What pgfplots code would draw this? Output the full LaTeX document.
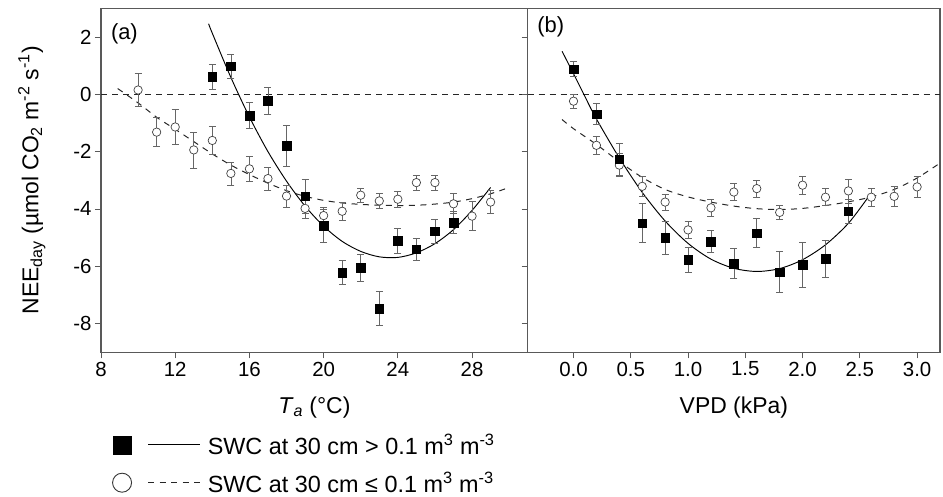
\documentclass[border=0pt]{standalone}
\usepackage{pgfplots}
\usepackage{pgfplotstable}
\pgfplotsset{compat=1.18}
\usepackage{fontspec}
\setmainfont{Liberation Sans}

% Panel (a): filled squares (SWC > 0.1)
\pgfplotstableread{
x y e
14 0.61 0.42
15 0.98 0.43
16 -0.74 0.46
17 -0.22 0.48
18 -1.80 0.72
19 -3.55 0.60
20 -4.59 0.58
21 -6.22 0.42
22 -6.05 0.47
23 -7.47 0.60
24 -5.11 0.45
25 -5.40 0.38
26 -4.77 0.42
27 -4.48 0.38
}\sqA
% Panel (a): open circles (SWC <= 0.1)
\pgfplotstableread{
x y e
10 0.15 0.57
11 -1.32 0.50
12 -1.14 0.60
13 -1.94 0.63
14 -1.61 0.50
15 -2.76 0.40
16 -2.60 0.44
17 -2.94 0.40
18 -3.55 0.38
19 -3.98 0.35
20 -4.23 0.30
21 -4.08 0.30
22 -3.52 0.25
23 -3.72 0.27
24 -3.66 0.27
25 -3.08 0.27
26 -3.08 0.27
27 -3.82 0.35
28 -4.25 0.50
29 -3.76 0.41
}\ciA
% Panel (b): filled squares
\pgfplotstableread{
x y e
0.0 0.88 0.27
0.2 -0.69 0.37
0.4 -2.27 0.57
0.6 -4.50 0.68
0.8 -5.00 0.58
1.0 -5.78 0.44
1.2 -5.14 0.38
1.4 -5.91 0.52
1.6 -4.84 0.50
1.8 -6.20 0.72
2.0 -5.94 0.78
2.2 -5.74 0.63
2.4 -4.08 0.41
}\sqB
% Panel (b): open circles
\pgfplotstableread{
x y e
0.0 -0.24 0.25
0.2 -1.78 0.32
0.4 -2.47 0.40
0.6 -3.21 0.35
0.8 -3.76 0.28
1.0 -4.73 0.30
1.2 -3.96 0.31
1.4 -3.41 0.30
1.6 -3.29 0.30
1.8 -4.12 0.25
2.0 -3.17 0.32
2.2 -3.59 0.30
2.4 -3.37 0.42
2.6 -3.59 0.32
2.8 -3.56 0.35
3.0 -3.23 0.36
}\ciB

\pgfplotsset{
  panel/.style={
    scale only axis, height=344bp,
    ymin=-9, ymax=3, ytick={-8,-6,-4,-2,0,2},
    tick pos=left, tick align=outside,
    major tick length=6bp,
    axis line style={black!65, line width=1.2pt},
    tick style={black!65, line width=0.9pt},
    ticklabel style={font=\fontsize{20.5}{24}\selectfont},
    /pgf/number format/assume math mode=true,
    label style={font=\fontsize{23}{27}\selectfont},
    clip=true,
  },
  errstyle/.style={
    error bars/y dir=both, error bars/y explicit,
    error bars/error bar style={black!60, line width=0.7pt},
    error bars/error mark options={rotate=90, black!60, mark size=3.5bp, line width=0.7pt}},
  sqmark/.style={only marks, mark=square*, mark size=4.3bp,
    mark options={fill=black, draw=black, line width=0.4pt}, errstyle},
  cimark/.style={only marks, mark=*, mark size=4.2bp,
    mark options={fill=white, draw=black!75, line width=0.7pt}, errstyle},
  fitsolid/.style={black, line width=0.95pt, smooth, no marks},
  fitdash/.style={black!85, line width=1pt, smooth, no marks, dash pattern=on 6bp off 5.5bp},
  zeroline/.style={black!85, line width=0.9pt, no marks, dash pattern=on 6bp off 5bp},
}

\begin{document}
\begin{tikzpicture}
\path[use as bounding box] (0,0) rectangle (943bp,497bp);

% ---------------- Panel (a) ----------------
\begin{axis}[panel,
  at={(101bp,144.7bp)}, anchor=south west, width=426.7bp,
  xmin=8, xmax=31, xtick={8,12,16,20,24,28},
  xlabel={\textit{T}\textsubscript{\textit{a}} (°C)},
  xlabel style={at={(axis description cs:0.5,-0.177)}, anchor=base},
  ylabel={NEE\textsubscript{day} (µmol CO\textsubscript{2} m\textsuperscript{-2} s\textsuperscript{-1})},
  ylabel style={at={(axis description cs:-0.162,0.5)}, anchor=center},
  legend style={draw=none, fill=none, at={(rel axis cs:0.025,-0.232)}, anchor=north west,
    font=\fontsize{23.5}{27}\selectfont, inner sep=0pt, row sep=13bp,
    nodes={inner sep=1.5bp}},
  legend cell align=left,
]
\addplot[zeroline, forget plot] coordinates {(8,0) (31,0)};
\addplot[fitdash, forget plot] coordinates {
(8.9,0.20) (10,-0.30) (11,-0.80) (12,-1.22) (13,-1.65) (14,-2.08) (15,-2.47)
(16,-2.80) (17,-3.10) (18,-3.36) (19,-3.56) (20,-3.70) (21,-3.79) (22,-3.84)
(23,-3.87) (24,-3.88) (25,-3.87) (26,-3.83) (27,-3.76) (28,-3.64) (29,-3.47) (30,-3.25)};
\addplot[fitsolid, forget plot] coordinates {
(13.8,2.46) (14,2.13) (15,0.59) (16,-0.79) (17,-2.00) (18,-3.03) (19,-3.90)
(20,-4.60) (21,-5.13) (22,-5.48) (23,-5.67) (24,-5.69) (25,-5.53) (26,-5.21)
(27,-4.72) (28,-4.05) (29,-3.25)};
\addplot[cimark, forget plot] table[x=x, y=y, y error=e] {\ciA};
\addplot[sqmark, forget plot] table[x=x, y=y, y error=e] {\sqA};

\addlegendimage{legend image code/.code={
  \path (-10bp,0bp) (84bp,0bp);
  \draw[black, line width=0.8pt] (26bp,0bp) -- (78bp,0bp);
  \draw[black] plot[mark=square*, mark size=9bp, mark options={fill=black}] coordinates {(0bp,0bp)};
}}
\addlegendentry{SWC at 30 cm > 0.1 m\textsuperscript{3} m\textsuperscript{-3}}
\addlegendimage{legend image code/.code={
  \path (-10bp,0bp) (84bp,0bp);
  \draw[black!85, line width=0.9pt, dash pattern=on 6bp off 5.5bp] (26bp,0bp) -- (78bp,0bp);
  \draw[black!80, line width=0.9pt] plot[mark=*, mark size=9.5bp, mark options={fill=white}] coordinates {(0bp,0bp)};
}}
\addlegendentry{SWC at 30 cm ≤ 0.1 m\textsuperscript{3} m\textsuperscript{-3}}

\node[anchor=north west, inner sep=0pt, font=\fontsize{22}{26}\selectfont] at (rel axis cs:0.023,0.955) {(a)};
\end{axis}

% ---------------- Panel (b) ----------------
\begin{axis}[panel,
  at={(527.7bp,144.7bp)}, anchor=south west, width=412.3bp,
  xmin=-0.4, xmax=3.2, xtick={0,0.5,1,1.5,2,2.5,3},
  xticklabel style={/pgf/number format/.cd, fixed, fixed zerofill, precision=1},
  yticklabels={},
  xlabel={VPD (kPa)},
  xlabel style={at={(axis description cs:0.5,-0.177)}, anchor=base},
]
\addplot[zeroline] coordinates {(-0.4,0) (3.2,0)};
\addplot[fitdash] coordinates {
(-0.1,-0.88) (0,-1.20) (0.2,-1.75) (0.4,-2.35) (0.6,-2.90) (0.8,-3.32) (1.0,-3.58)
(1.2,-3.76) (1.4,-3.90) (1.6,-3.99) (1.8,-4.02) (2.0,-3.98) (2.2,-3.88) (2.4,-3.75)
(2.6,-3.58) (2.8,-3.32) (3.0,-2.92) (3.2,-2.40)};
\addplot[fitsolid] coordinates {
(-0.1,1.50) (0,0.72) (0.1,-0.08) (0.2,-0.86) (0.4,-2.22) (0.6,-3.42) (0.8,-4.42)
(1.0,-5.20) (1.2,-5.75) (1.4,-6.07) (1.6,-6.18) (1.8,-6.08) (2.0,-5.77) (2.2,-5.25)
(2.4,-4.50) (2.58,-3.55)};
\addplot[cimark] table[x=x, y=y, y error=e] {\ciB};
\addplot[sqmark] table[x=x, y=y, y error=e] {\sqB};
\node[anchor=north west, inner sep=0pt, font=\fontsize{22}{26}\selectfont] at (rel axis cs:0.023,0.975) {(b)};
\end{axis}
\end{tikzpicture}
\end{document}
